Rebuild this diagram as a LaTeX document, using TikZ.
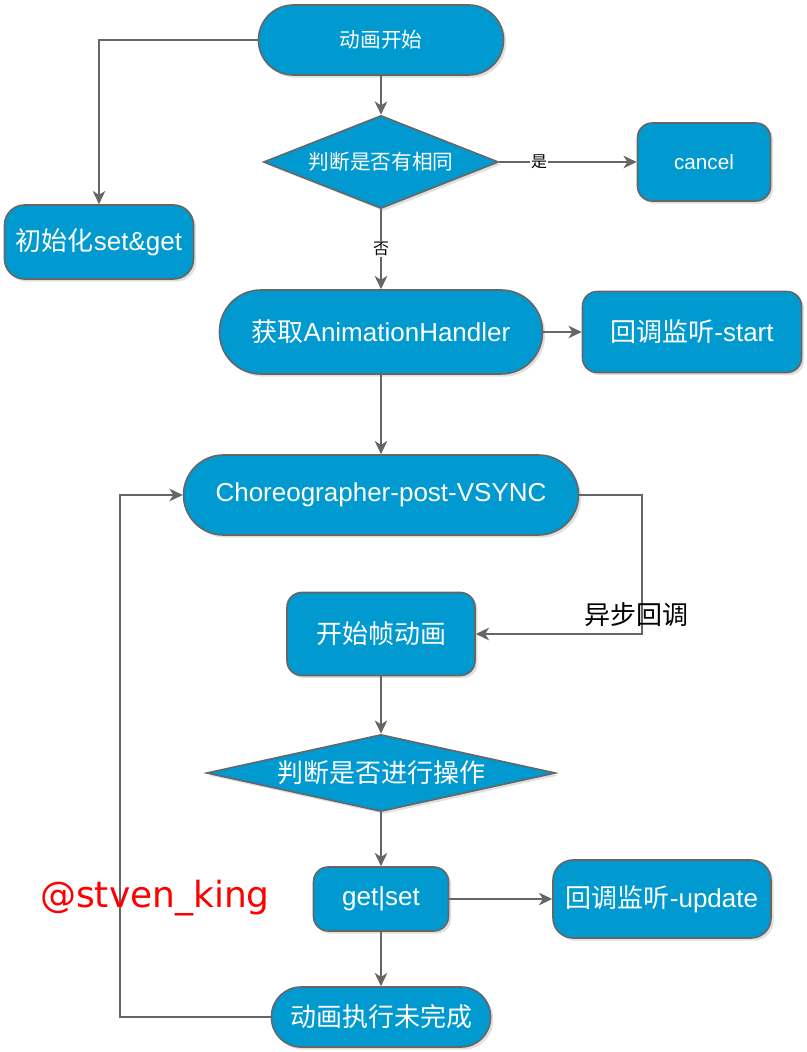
\documentclass[tikz,border=0pt]{standalone}
\usepackage{fontspec}
\setmainfont{Liberation Sans}
\newfontfamily\cjk{Noto Sans CJK SC}
\newfontfamily\markfont{DejaVu Sans}
\usetikzlibrary{shapes.geometric,arrows.meta,shadows}

\definecolor{boxblue}{RGB}{0,153,208}
\definecolor{edgegray}{RGB}{102,102,102}

\tikzset{every picture/.style={line width=1.2pt},
  flowbox/.style={draw=edgegray, fill=boxblue, text=white, inner sep=0pt,
    drop shadow={shadow xshift=2pt, shadow yshift=-2pt, fill=black, opacity=0.12}},
  stadium/.style={flowbox, rectangle, rounded corners=#1},
  roundbox/.style={flowbox, rectangle, rounded corners=11pt},
  decision/.style={flowbox, diamond, aspect=2.5},
  link/.style={draw=edgegray, -{Stealth[length=10pt,width=9.5pt,inset=3pt]}},
  edgelabel/.style={inner sep=1pt, font=\cjk\fontsize{12}{14}\selectfont, fill=white},
  smalltext/.style={font=\fontsize{15.5}{18}\selectfont},
  bigtext/.style={font=\fontsize{19.5}{23}\selectfont}
}

\begin{document}
\begin{tikzpicture}[x=0.75pt,y=0.75pt,yscale=-1,xscale=1]
	\useasboundingbox (0,0) rectangle (806,1052);

	%Shape: Terminator [id:start]
	\node [stadium=26pt, smalltext, minimum width=183.75pt, minimum height=52.5pt] (start) at (381,40) {\cjk 动画开始};
	%Shape: Decision [id:same]
	\node [decision, smalltext, minimum width=176.25pt, minimum height=69.75pt] (same) at (381,162) {\cjk 判断是否有相同};
	%Shape: Rounded Rect [id:cancel]
	\node [roundbox, smalltext, minimum width=99.75pt, minimum height=58.5pt] (cancel) at (704,162) {cancel};
	%Shape: Rounded Rect [id:init]
	\node [stadium=15pt, bigtext, minimum width=141.75pt, minimum height=55.5pt] (init) at (99,242) {{\cjk 初始化}set\&get};
	%Shape: Terminator [id:handler]
	\node [stadium=31pt, bigtext, minimum width=242.25pt, minimum height=63pt] (handler) at (381,332) {{\cjk 获取}AnimationHandler};
	%Shape: Rounded Rect [id:startcb]
	\node [roundbox, bigtext, minimum width=164.25pt, minimum height=60.75pt] (startcb) at (692,332) {{\cjk 回调监听}-start};
	%Shape: Terminator [id:choreo]
	\node [stadium=30pt, bigtext, minimum width=296.25pt, minimum height=60pt] (choreo) at (381,495) {Choreographer-post-VSYNC};
	%Shape: Rounded Rect [id:frame]
	\node [roundbox, bigtext, minimum width=141pt, minimum height=62.25pt] (frame) at (381,634) {\cjk 开始帧动画};
	%Shape: Decision [id:operate]
	\node [decision, bigtext, aspect=4.5, minimum width=261.75pt, minimum height=57.75pt] (operate) at (381,773) {\cjk 判断是否进行操作};
	%Shape: Rounded Rect [id:getset]
	\node [roundbox, bigtext, minimum width=101.25pt, minimum height=48pt] (getset) at (381,899) {get|set};
	%Shape: Rounded Rect [id:updatecb]
	\node [stadium=15pt, bigtext, minimum width=163.5pt, minimum height=58.5pt] (updatecb) at (662,899) {{\cjk 回调监听}-update};
	%Shape: Terminator [id:unfinished]
	\node [stadium=22pt, bigtext, minimum width=164.25pt, minimum height=45pt] (unfinished) at (381,1017) {\cjk 动画执行未完成};

	%Bend points
	\coordinate (async) at (642,634);
	\coordinate (loop) at (120,1017);

	%Connectors
	\draw [link] (start.west) -| (init.north);
	\draw [link] (start.south) -- (same.north);
	\draw [link] (same.east) -- node [edgelabel, pos=0.29] (yes) {是} (cancel.west);
	\draw [link] (same.south) -- node [edgelabel, pos=0.5] (no) {否} (handler.north);
	\draw [link] (handler.east) -- (startcb.west);
	\draw [link] (handler.south) -- (choreo.north);
	\draw [link] (choreo.east) -| (async) -- (frame.east);
	\draw [link] (frame.south) -- (operate.north);
	\draw [link] (operate.south) -- (getset.north);
	\draw [link] (getset.east) -- (updatecb.west);
	\draw [link] (getset.south) -- (unfinished.north);
	\draw [link] (unfinished.west) -- (loop) |- (choreo.west);

	% Text Node
	\node [font=\cjk\fontsize{19.5}{23}\selectfont, inner sep=0.75pt] (asynclabel) at (636,615) {异步回调};
	% Text Node
	\node [font=\markfont\fontsize{27}{31}\selectfont, text=red, inner sep=0.75pt] (watermark) at (155,898) {@stven\_king};
\end{tikzpicture}
\end{document}
